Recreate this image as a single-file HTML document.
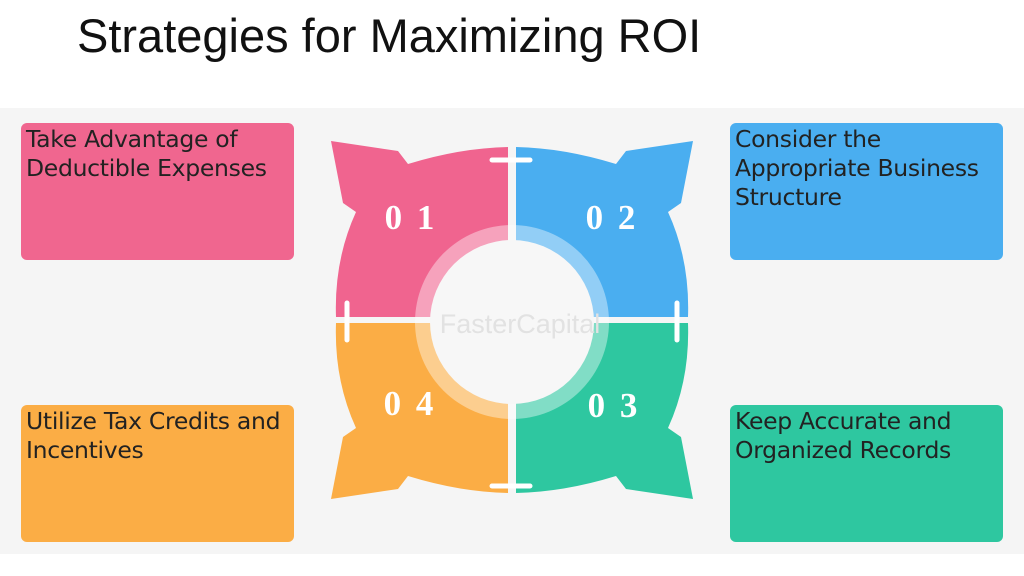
<!DOCTYPE html>
<html><head><style>
body{margin:0;width:1024px;height:576px;background:#fff;position:relative;overflow:hidden;font-family:"Liberation Sans",sans-serif}
.bg{position:absolute;left:0;top:108px;width:1024px;height:446px;background:#f5f5f5}
h1{position:absolute;left:77px;top:8px;margin:0;font-weight:normal;font-size:47px;color:#111}
.box{position:absolute;width:273px;height:137px;border-radius:6px;box-sizing:border-box;padding:2px 5px;font-family:"DejaVu Sans","Liberation Sans",sans-serif;font-size:23.5px;line-height:29px;color:#222;letter-spacing:-0.3px}
</style></head><body>
<div class="bg"></div>
<h1>Strategies for Maximizing ROI</h1>
<div class="box" style="left:21px;top:123px;background:#f0668f">Take Advantage of Deductible Expenses</div>
<div class="box" style="left:730px;top:123px;background:#4aaef0">Consider the Appropriate Business Structure</div>
<div class="box" style="left:21px;top:405px;background:#fbad45">Utilize Tax Credits and Incentives</div>
<div class="box" style="left:730px;top:405px;background:#2ec7a0">Keep Accurate and Organized Records</div>
<svg width="1024" height="576" style="position:absolute;left:0;top:0">
<defs><path id="q" d="M331,141 L398,151 L408,164 Q460,148 508,147 L508,317 L336,317 Q334,260 356,212 L343,203 Z"/></defs>
<use href="#q" fill="#f0648f"/>
<use href="#q" fill="#4aaef0" transform="translate(1024,0) scale(-1,1)"/>
<use href="#q" fill="#fbad45" transform="translate(0,640) scale(1,-1)"/>
<use href="#q" fill="#2ec7a0" transform="translate(1024,640) scale(-1,-1)"/>
<g stroke="#fff" stroke-width="5" stroke-linecap="round">
<line x1="492" y1="160" x2="530" y2="160"/><line x1="492" y1="486" x2="530" y2="486"/>
<line x1="347" y1="303" x2="347" y2="340"/><line x1="677" y1="303" x2="677" y2="340"/>
</g>
<circle cx="512" cy="322" r="97" fill="#fff" fill-opacity="0.4"/>
<circle cx="512" cy="322" r="82" fill="#f7f7f7"/>
<text x="520" y="333" font-family="Liberation Sans,sans-serif" font-size="27" fill="#e2e2e2" text-anchor="middle">FasterCapital</text>
<g font-family="Liberation Serif,serif" font-size="35" font-weight="bold" fill="#fff" text-anchor="middle" letter-spacing="3">
<text x="411" y="229">0 1</text><text x="612" y="229">0 2</text>
<text x="614" y="417">0 3</text><text x="410" y="415">0 4</text>
</g>
</svg>
</body></html>
